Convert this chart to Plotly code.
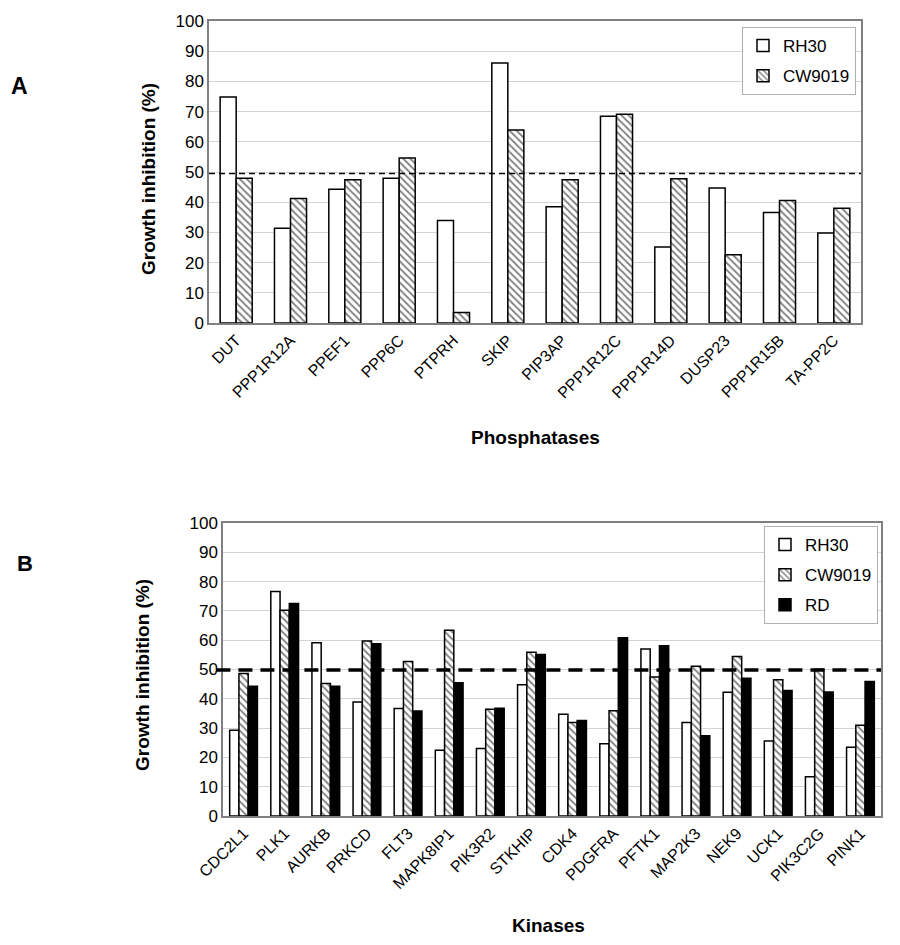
import plotly.graph_objects as go

# ---------------- Data ----------------
phos_categories = ["DUT", "PPP1R12A", "PPEF1", "PPP6C", "PTPRH", "SKIP", "PIP3AP",
                   "PPP1R12C", "PPP1R14D", "DUSP23", "PPP1R15B", "TA-PP2C"]
phos_rh30 = [74.8, 31.4, 44.3, 47.9, 33.9, 86.1, 38.5, 68.5, 25.2, 44.7, 36.6, 29.8]
phos_cw9019 = [47.9, 41.2, 47.4, 54.6, 3.5, 63.9, 47.4, 69.1, 47.8, 22.6, 40.6, 38.0]

kin_categories = ["CDC2L1", "PLK1", "AURKB", "PRKCD", "FLT3", "MAPK8IP1", "PIK3R2", "STKHIP",
                  "CDK4", "PDGFRA", "PFTK1", "MAP2K3", "NEK9", "UCK1", "PIK3C2G", "PINK1"]
kin_rh30 = [29.3, 76.6, 59.1, 38.9, 36.7, 22.4, 23.0, 44.8, 34.7, 24.7, 57.0, 31.9, 42.2, 25.6, 13.4, 23.5]
kin_cw9019 = [48.6, 70.2, 45.2, 59.7, 52.7, 63.4, 36.4, 55.9, 31.9, 35.9, 47.4, 51.1, 54.4, 46.5, 50.1, 31.0]
kin_rd = [44.3, 72.5, 44.3, 58.8, 35.8, 45.5, 36.8, 55.1, 32.6, 60.8, 58.1, 27.4, 47.0, 42.8, 42.3, 45.9]

threshold_a = 49.5
threshold_b = 49.8
y_ticks = [0, 10, 20, 30, 40, 50, 60, 70, 80, 90, 100]

FONT = "Arial, Liberation Sans, sans-serif"
OFF = 8  # default page body margin
W, H = 900 - OFF, 945 - OFF

def px_x(p):
    return (p - OFF) / W

def px_y(p):
    return 1 - (p - OFF) / H

fig = go.Figure()

white_marker = dict(color="white", line=dict(color="black", width=1.5))
hatch_marker = dict(color="white", line=dict(color="black", width=1.5),
                    pattern=dict(shape="\\", fgcolor="black", bgcolor="white", size=5, solidity=0.35))
black_marker = dict(color="black", line=dict(color="black", width=1.5))

# Panel A
wa = 0.295
fig.add_trace(go.Bar(x=phos_categories, y=phos_rh30, name="RH30", marker=white_marker,
                     width=wa, offset=-wa, xaxis="x", yaxis="y", legend="legend",
                     legendgroup="a1"))
fig.add_trace(go.Bar(x=phos_categories, y=phos_cw9019, name="CW9019", marker=hatch_marker,
                     width=wa, offset=0, xaxis="x", yaxis="y", legend="legend",
                     legendgroup="a2"))

# Panel B
wb = 0.225
fig.add_trace(go.Bar(x=kin_categories, y=kin_rh30, name="RH30", marker=white_marker,
                     width=wb, offset=-1.5 * wb, xaxis="x2", yaxis="y2", legend="legend2",
                     legendgroup="b1"))
fig.add_trace(go.Bar(x=kin_categories, y=kin_cw9019, name="CW9019", marker=hatch_marker,
                     width=wb, offset=-0.5 * wb, xaxis="x2", yaxis="y2", legend="legend2",
                     legendgroup="b2"))
fig.add_trace(go.Bar(x=kin_categories, y=kin_rd, name="RD", marker=black_marker,
                     width=wb, offset=0.5 * wb, xaxis="x2", yaxis="y2", legend="legend2",
                     legendgroup="b3"))

axis_common_x = dict(showgrid=False, tickangle=-45, ticks="", showline=True, linecolor="#808080",
                     linewidth=1.5, mirror=True, automargin=False,
                     tickfont=dict(family=FONT, size=16, color="black"))
axis_common_y = dict(range=[0, 100], tickvals=y_ticks, showgrid=True, gridcolor="#d4d4d4",
                     gridwidth=1, ticks="", showline=True, linecolor="#808080", linewidth=1.5,
                     mirror=True, zeroline=False, automargin=False,
                     tickfont=dict(family=FONT, size=17, color="black"),
                     fixedrange=True)

fig.update_layout(
    width=W, height=H,
    margin=dict(l=0, r=0, t=0, b=0),
    paper_bgcolor="white", plot_bgcolor="white",
    font=dict(family=FONT, color="black"),
    barmode="overlay",
    xaxis=dict(domain=[px_x(209), px_x(861)], anchor="y",
               categoryorder="array", categoryarray=phos_categories, **axis_common_x),
    yaxis=dict(domain=[px_y(323), px_y(21)], anchor="x", **axis_common_y),
    xaxis2=dict(domain=[px_x(223), px_x(881)], anchor="y2",
                categoryorder="array", categoryarray=kin_categories, **axis_common_x),
    yaxis2=dict(domain=[px_y(816), px_y(523)], anchor="x2", **axis_common_y),
    legend=dict(x=px_x(856), y=px_y(27), xanchor="right", yanchor="top",
                bordercolor="#b0b0b0", borderwidth=1, bgcolor="white",
                font=dict(family=FONT, size=17, color="black"),
                tracegroupgap=5, itemwidth=30),
    legend2=dict(x=px_x(878), y=px_y(526), xanchor="right", yanchor="top",
                 bordercolor="#b0b0b0", borderwidth=1, bgcolor="white",
                 font=dict(family=FONT, size=17, color="black"),
                 tracegroupgap=5, itemwidth=30),
    showlegend=True,
)

# threshold lines
fig.add_shape(type="line", xref="x domain", yref="y", x0=0, x1=1, y0=threshold_a, y1=threshold_a,
              line=dict(color="black", width=1.5, dash="6px,4px"))
fig.add_shape(type="line", xref="x2 domain", yref="y2", x0=-0.01, x1=1, y0=threshold_b, y1=threshold_b,
              line=dict(color="black", width=3.5, dash="14px,8px"))

# annotations: axis titles and panel labels
ann = [
    dict(text="<b>Growth inhibition (%)</b>", x=px_x(148), y=px_y(179), textangle=-90, size=19),
    dict(text="<b>Growth inhibition (%)</b>", x=px_x(142), y=px_y(675), textangle=-90, size=19),
    dict(text="<b>Phosphatases</b>", x=px_x(535), y=px_y(437), size=19),
    dict(text="<b>Kinases</b>", x=px_x(548), y=px_y(925), size=19),
    dict(text="<b>A</b>", x=px_x(19), y=px_y(86), size=23),
    dict(text="<b>B</b>", x=px_x(25), y=px_y(563), size=22),
]
for a in ann:
    fig.add_annotation(xref="paper", yref="paper", showarrow=False,
                       xanchor="center", yanchor="middle",
                       font=dict(family=FONT, color="black", size=a["size"]),
                       text=a["text"], x=a["x"], y=a["y"], textangle=a.get("textangle", 0))

fig.write_html("out.html")
